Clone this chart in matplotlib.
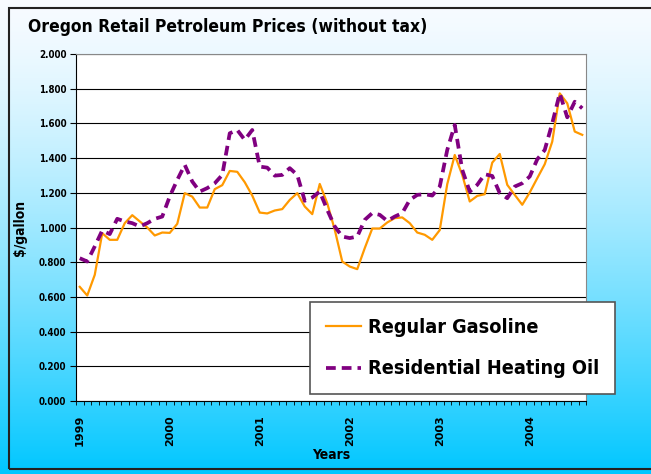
import numpy as np
import matplotlib.pyplot as plt
from matplotlib.patches import Rectangle

# monthly prices, Jan 1999 .. Aug 2004 ($/gallon, without tax)
gasoline = [0.658, 0.608, 0.727, 0.967, 0.929, 0.929, 1.025, 1.071, 1.035, 1.000, 0.954, 0.971,
            0.969, 1.021, 1.198, 1.178, 1.115, 1.115, 1.221, 1.244, 1.326, 1.321, 1.261, 1.184,
            1.086, 1.081, 1.098, 1.106, 1.159, 1.198, 1.121, 1.077, 1.251, 1.140, 0.987, 0.804,
            0.775, 0.760, 0.881, 0.994, 0.994, 1.029, 1.054, 1.058, 1.025, 0.971, 0.958, 0.929,
            0.985, 1.250, 1.418, 1.303, 1.150, 1.182, 1.192, 1.374, 1.424, 1.246, 1.188, 1.131,
            1.202, 1.284, 1.365, 1.495, 1.773, 1.716, 1.553, 1.534]
heating_oil = [0.823, 0.804, 0.891, 0.983, 0.962, 1.050, 1.035, 1.025, 1.006, 1.025, 1.050, 1.063,
               1.179, 1.274, 1.361, 1.265, 1.207, 1.227, 1.255, 1.303, 1.543, 1.562, 1.505, 1.562,
               1.351, 1.345, 1.299, 1.303, 1.342, 1.303, 1.154, 1.173, 1.207, 1.102, 1.006, 0.948,
               0.939, 0.948, 1.044, 1.083, 1.073, 1.038, 1.063, 1.083, 1.159, 1.188, 1.192, 1.184,
               1.236, 1.447, 1.591, 1.332, 1.207, 1.246, 1.307, 1.297, 1.198, 1.169, 1.236, 1.255,
               1.294, 1.393, 1.447, 1.601, 1.773, 1.635, 1.725, 1.687]
years = ['1999', '2000', '2001', '2002', '2003', '2004']

fig = plt.figure(figsize=(6.51, 4.74), dpi=100)
W, H = 651, 474

# gradient background
bg = fig.add_axes([0, 0, 1, 1], zorder=-10)
t = np.linspace(0, 1, 256) ** 1.4
top = np.array([0.97, 0.985, 1.0])
bot = np.array([0.0, 0.78, 1.0])
grad = top[None, :] * (1 - t[:, None]) + bot[None, :] * t[:, None]
bg.imshow(grad[:, None, :], aspect='auto', extent=[0, 1, 0, 1], origin='upper')
bg.add_patch(Rectangle((9 / W, 5 / H), 1.2, (H - 13) / H, fill=False,
                       edgecolor='#222222', linewidth=1.5))
bg.set_xlim(0, 1)
bg.set_ylim(0, 1)
bg.axis('off')

ax = fig.add_axes([76 / W, (H - 401) / H, (586 - 76) / W, (401 - 54) / H])
ax.set_facecolor('white')

x = np.arange(len(gasoline)) + 0.5
ax.plot(x, gasoline, color='#ff9900', linewidth=1.6, label='Regular Gasoline', zorder=3)
ax.plot(x, heating_oil, color='#800080', linewidth=2.7, dashes=(2.6, 1.6),
        label='Residential Heating Oil', zorder=3)

ax.set_xlim(0, len(gasoline))
ax.set_ylim(0, 2.0)
ax.set_yticks(np.arange(0, 2.01, 0.2))
ax.set_yticklabels(['%.3f' % v for v in np.arange(0, 2.01, 0.2)],
                   fontsize=7, fontweight='bold', fontstretch='condensed')
ax.yaxis.grid(True, color='black', linewidth=0.8)
ax.set_axisbelow(True)

ax.set_xticks(np.arange(0, len(gasoline) + 1), minor=True)
ax.set_xticks(np.arange(0, 72, 12) + 0.5)
ax.set_xticklabels(years, rotation=90, fontsize=8, fontweight='bold')
ax.tick_params(axis='x', which='major', length=0, pad=10)
ax.tick_params(axis='x', which='minor', length=3, direction='out')
ax.tick_params(axis='y', length=4, direction='out', pad=3)

for s in ['top', 'right']:
    ax.spines[s].set_color('#888888')
ax.spines['left'].set_color('black')
ax.spines['bottom'].set_color('black')

fig.text(28 / W, 1 - 27 / H, 'Oregon Retail Petroleum Prices (without tax)',
         fontsize=12.5, fontweight='bold', fontstretch='condensed',
         va='center', ha='left')
fig.text(20 / W, 1 - 228 / H, '$/gallon', rotation=90, fontsize=10, fontweight='bold',
         fontstretch='condensed', va='center', ha='center')
fig.text(331 / W, 1 - 455 / H, 'Years', fontsize=10, fontweight='bold',
         fontstretch='condensed', va='center', ha='center')

leg = ax.legend(loc='upper left', bbox_to_anchor=((310 - 76) / (586 - 76), (401 - 302) / (401 - 54)),
                borderaxespad=0, frameon=True, fancybox=False, shadow=False, borderpad=0.8,
                labelspacing=1.15, handlelength=1.8, handletextpad=0.35,
                prop={'size': 14.2, 'weight': 'bold', 'stretch': 'condensed'})
leg.get_frame().set_edgecolor('#555555')
leg.get_frame().set_linewidth(1.2)
leg.get_frame().set_alpha(1)
leg.set_zorder(5)

fig.savefig('out.png', dpi=100)
